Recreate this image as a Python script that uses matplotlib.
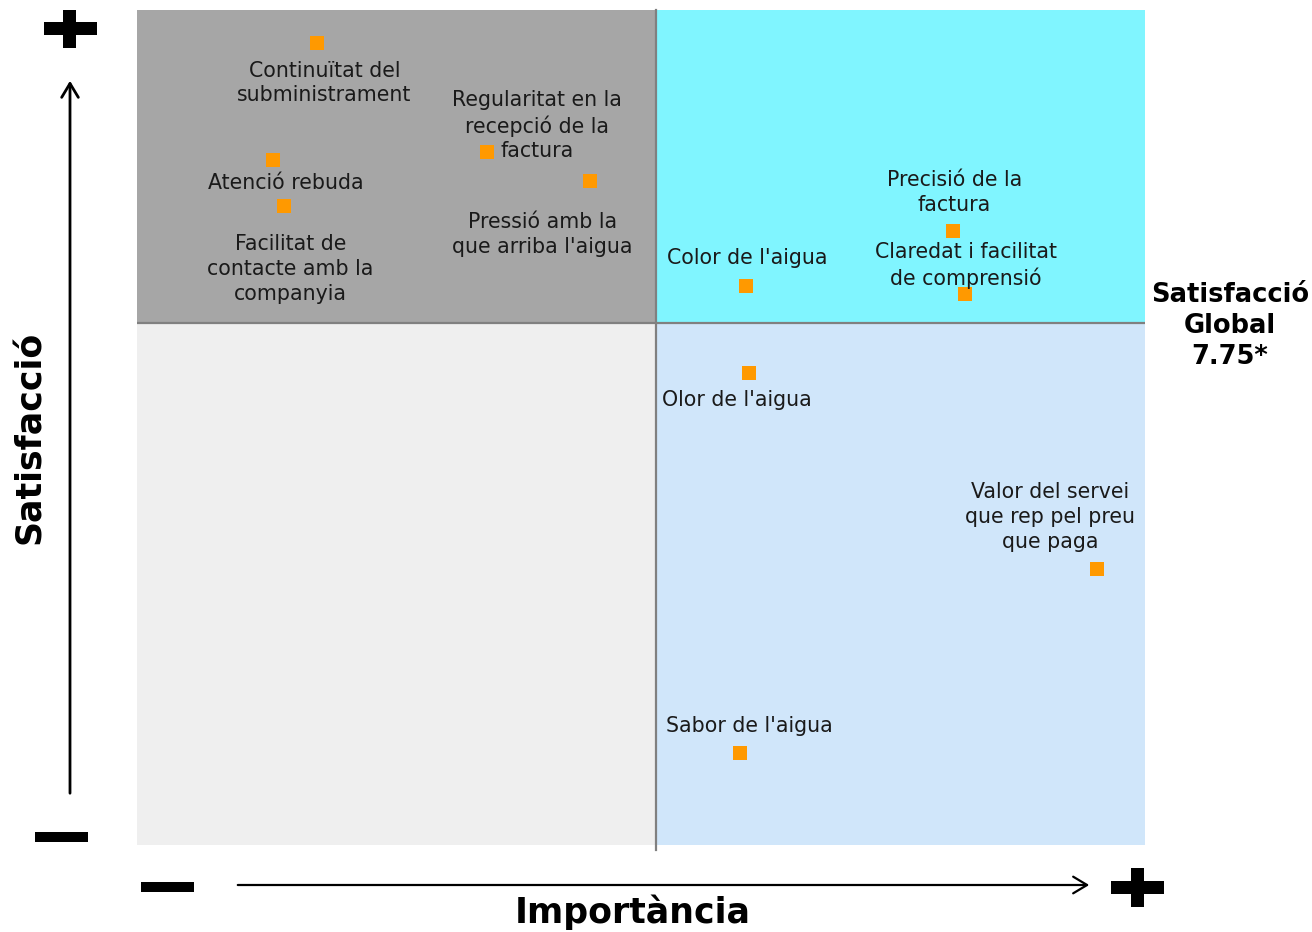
import matplotlib
matplotlib.use("Agg")
import matplotlib.pyplot as plt
from matplotlib.patches import Rectangle, FancyArrowPatch

plt.rcParams['font.family'] = ['DejaVu Sans']

# ---- data ----
labels = [
    "Continuïtat del\nsubministrament",
    "Atenció rebuda",
    "Facilitat de\ncontacte amb la\ncompanyia",
    "Regularitat en la\nrecepció de la\nfactura",
    "Pressió amb la\nque arriba l'aigua",
    "Color de l'aigua",
    "Precisió de la\nfactura",
    "Claredat i facilitat\nde comprensió",
    "Olor de l'aigua",
    "Valor del servei\nque rep pel preu\nque paga",
    "Sabor de l'aigua",
]
importance = [17.9, 13.5, 14.6, 34.7, 44.9, 60.4, 81.0, 82.1, 60.7, 95.2, 59.8]
satisfaction = [8.42, 8.14, 8.03, 8.16, 8.09, 7.84, 7.97, 7.82, 7.63, 7.16, 6.72]
# label offsets in data units (dx, dy) relative to the point
label_dx = [0.7, 1.3, 0.6, 5.0, -4.7, 0.1, 0.1, 0.1, -1.2, -4.6, 1.0]
label_dy = [-0.095, -0.055, -0.150, 0.063, -0.128, 0.065, 0.093, 0.068, -0.065, 0.126, 0.065]

x_mean = 51.5
sat_global = 7.75
xlim = (0, 100)
ylim = (6.5, 8.5)

W, H = 1312, 932
fig = plt.figure(figsize=(W / 100, H / 100), dpi=100)
ax = fig.add_axes([137 / W, 1 - 845 / H, 1008 / W, 835 / H])
ax.set_xlim(*xlim)
ax.set_ylim(*ylim)

# quadrants
ax.add_patch(Rectangle((xlim[0], sat_global), x_mean - xlim[0], ylim[1] - sat_global, color="#a6a6a6", lw=0, zorder=0))
ax.add_patch(Rectangle((x_mean, sat_global), xlim[1] - x_mean, ylim[1] - sat_global, color="#80f5ff", lw=0, zorder=0))
ax.add_patch(Rectangle((xlim[0], ylim[0]), x_mean - xlim[0], sat_global - ylim[0], color="#efefef", lw=0, zorder=0))
ax.add_patch(Rectangle((x_mean, ylim[0]), xlim[1] - x_mean, sat_global - ylim[0], color="#d0e6fa", lw=0, zorder=0))
ax.axvline(x_mean, ymin=-0.006, ymax=1, color="#808080", lw=1.6, clip_on=False, zorder=1)
ax.axhline(sat_global, color="#808080", lw=1.6, zorder=1)

ax.scatter(importance, satisfaction, marker="s", s=110, color="#ff9900", lw=0, zorder=3)
for x, y, t, dx, dy in zip(importance, satisfaction, labels, label_dx, label_dy):
    ax.text(x + dx, y + dy, t, ha="center", va="center", fontsize=14.8, color="#1a1a1a",
            linespacing=1.3, zorder=4)

for s in ax.spines.values():
    s.set_visible(False)
ax.set_xticks([])
ax.set_yticks([])

# decorations in figure pixel coordinates
def fx(px):
    return px / W

def fy(py):
    return 1 - py / H

def bar(x0, y0, x1, y1):
    fig.patches.append(Rectangle((fx(x0), fy(y1)), fx(x1) - fx(x0), fy(y0) - fy(y1),
                                 transform=fig.transFigure, color="black", lw=0))

# top-left plus
bar(44, 22, 97, 35)
bar(63, 10, 76, 48)
# left minus
bar(35, 832, 88, 842)
# bottom minus
bar(141, 882, 194, 892)
# bottom-right plus
bar(1111, 881, 1164, 894)
bar(1131, 868, 1144, 907)

fig.patches.append(FancyArrowPatch((fx(70), fy(796)), (fx(70), fy(78)), transform=fig.transFigure,
                                   arrowstyle="->,head_length=10,head_width=6", lw=2, color="black",
                                   mutation_scale=1))
fig.patches.append(FancyArrowPatch((fx(235), fy(885)), (fx(1092), fy(885)), transform=fig.transFigure,
                                   arrowstyle="->,head_length=10,head_width=6", lw=1.6, color="black",
                                   mutation_scale=1))

fig.text(fx(30), fy(437), "Satisfacció", rotation=90, ha="center", va="center",
         fontsize=25, fontweight="bold")
fig.text(fx(633), fy(912), "Importància", ha="center", va="center",
         fontsize=25, fontweight="bold")
fig.text(fx(1230), fy(326), "Satisfacció\nGlobal\n7.75*", ha="center", va="center",
         fontsize=18.5, fontweight="bold", linespacing=1.25)

fig.savefig("out.png", dpi=100)
